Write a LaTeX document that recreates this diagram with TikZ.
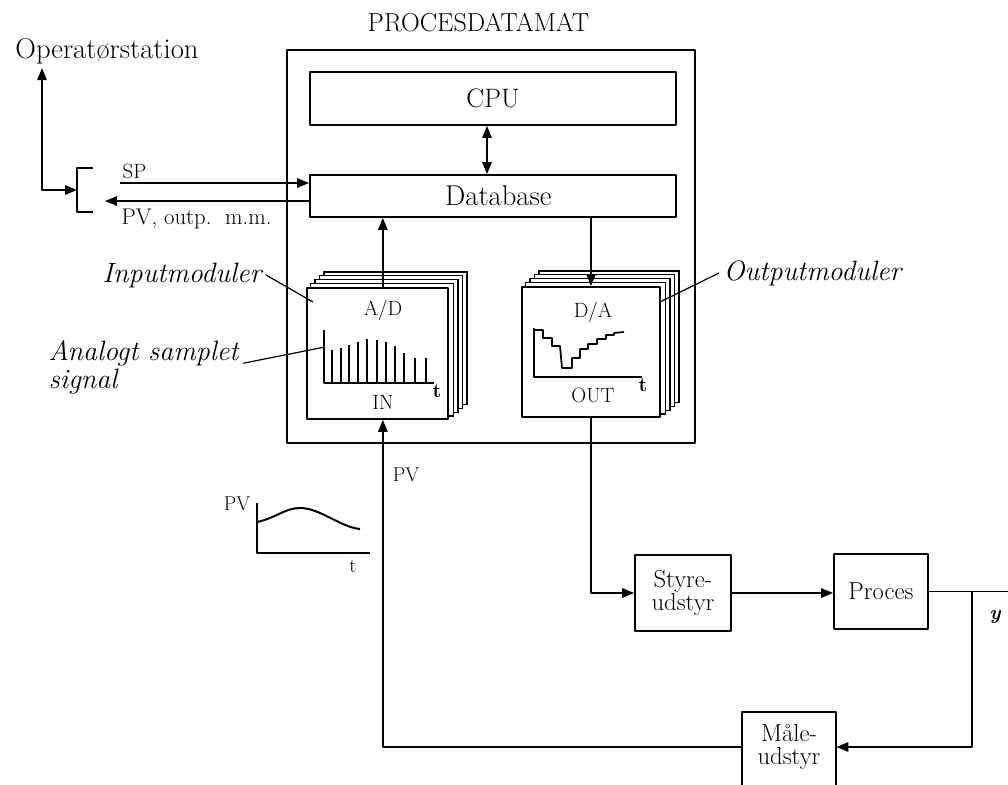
\documentclass[tikz,border=0pt]{standalone}
\usepackage{fontspec}
\usetikzlibrary{arrows.meta,calc,backgrounds}
\tikzset{
  lw/.style={line width=1.3pt},
  thin line/.style={line width=0.9pt},
  box/.style={draw, line width=1.3pt, inner sep=0pt, fill=white},
  page/.style={draw, line width=1pt, fill=white},
  arr/.style={-{Triangle[length=9pt,width=7pt]}},
  darr/.style={{Triangle[length=9pt,width=7pt]}-{Triangle[length=9pt,width=7pt]}},
  bigtxt/.style={font=\fontsize{21.5}{24}\selectfont},
  blocktxt/.style={font=\fontsize{18.5}{17}\selectfont, align=center},
  modtxt/.style={font=\fontsize{15.5}{18}\selectfont},
  smalltxt/.style={font=\fontsize{14}{16}\selectfont},
  itlab/.style={font=\itshape\fontsize{21}{20.5}\selectfont},
}
\begin{document}
\begin{tikzpicture}[x=0.75pt,y=-0.75pt,line join=round]
\useasboundingbox (0,0) rectangle (1008,785);

% ---- process computer frame
\node[box, fill=none, minimum width=306pt, minimum height=294.75pt] (outer) at (491,246.5) {};
\node[font=\fontsize{19.5}{22}\selectfont] (title) at (478.5,23) {PROCESDATAMAT};

\node[box, font=\fontsize{20}{22}\selectfont, minimum width=274.5pt, minimum height=39.75pt] (cpu) at (493,98.5) {CPU};
\node[box, bigtxt, minimum width=274.5pt, minimum height=31.5pt] (db) at (493,196) {\hspace{8pt}Database};
\draw[lw, darr] ([xshift=-4.5pt]cpu.south) -- ([xshift=-4.5pt]db.north);

% ---- input module stack
\node[box, minimum width=105.75pt, minimum height=98.25pt] (inmod) at (377.5,353.5) {};
\begin{scope}[on background layer]
  \foreach \k in {4,3,2,1}
    \draw[page] ([shift={(\k*4.5,-\k*3.8)}]inmod.south west) rectangle ([shift={(\k*4.5,-\k*3.8)}]inmod.north east);
\end{scope}
\node[modtxt] (ad) at (383,310) {A/D};
\node[modtxt] (in) at (383,402) {IN};
\draw[lw] (324,330) -- (324,383) -- (434,383);
\foreach \x/\h in {331.7/350, 341/348, 349.3/345, 358.3/342, 366.7/339, 376.7/340, 386/342, 395/346, 404.3/353, 415/358, 425.7/358}
  \draw[line width=1.5pt] (\x,383) -- (\x,\h);
\node[font=\bfseries\fontsize{15}{16}\selectfont] (tin) at (437,391) {t};

% ---- output module stack
\node[box, minimum width=103.5pt, minimum height=97.5pt] (outmod) at (591,352) {};
\begin{scope}[on background layer]
  \foreach \k in {4,3,2,1}
    \draw[page] ([shift={(\k*4.5,-\k*3.8)}]outmod.south west) rectangle ([shift={(\k*4.5,-\k*3.8)}]outmod.north east);
\end{scope}
\node[modtxt] (da) at (593,312) {D/A};
\node[modtxt] (outt) at (593,395) {OUT};
\draw[lw] (534,328) -- (534,377) -- (642,377);
\draw[lw] (534,330) -- (543,330) -- (543,338) -- (552,338) -- (552,346) -- (560,346)
  -- (562,368) -- (572,368) -- (572,358) -- (580,358) -- (580,349) -- (588,349)
  -- (588,344) -- (597,344) -- (597,339) -- (606,339) -- (606,335) -- (614,335)
  -- (614,333) -- (624,332);
\node[font=\bfseries\fontsize{15}{16}\selectfont] (tout) at (643,385) {t};

% ---- connections inside
\coordinate (inx) at ([xshift=4pt]inmod.north);
\draw[lw, arr] (inx) -- (inx |- db.south);
\draw[lw, arr] (outmod.north |- db.south) -- (outmod.north);

% ---- operator side
\coordinate (sps) at (120,183);
\coordinate (pve) at (105,201);
\draw[lw, arr] (sps) -- (sps -| db.west);
\draw[lw, arr] (pve -| db.west) -- (pve);
\node[modtxt, anchor=west] (sp) at (118,171) {SP};
\node[font=\fontsize{17}{18}\selectfont, anchor=west] (pvout) at (117,219) {PV, outp.\ \ m.m.};
\coordinate (brk) at (77,190);
\draw[lw] (93,168) -- (77,168) -- (77,212) -- (93,212);
\node[bigtxt] (op) at (107,51) {Operatørstation};
\coordinate (optip) at (42,68);
\draw[lw, darr] (optip) |- (brk);

% ---- labels with leaders
\node[itlab, anchor=east] (inlab) at (266,275) {Inputmoduler};
\coordinate (inlead) at (313,302);
\draw[thin line] (inlab.east) -- (inlead);
\node[itlab, anchor=north west, align=left] (anlab) at (44,336) {Analogt samplet\\signal};
\coordinate (anlead) at (325,347);
\draw[thin line] ([yshift=3pt]anlab.east) -- (anlead);
\node[itlab, anchor=west] (outlab) at (719,273) {Outputmoduler};
\coordinate (outlead) at (660,302);
\draw[thin line] (outlab.west) -- (outlead);

% ---- plant loop
\node[box, blocktxt, minimum width=72pt, minimum height=57pt] (styre) at (683,593) {Styre-\\udstyr};
\node[box, blocktxt, minimum width=70.5pt, minimum height=56.25pt] (proces) at (881,591.5) {Proces};
\node[blocktxt, minimum width=70.5pt, minimum height=52.5pt, inner sep=0pt] (maale) at (789,747) {Måle-\\udstyr};
\draw[lw] ([yshift=-30pt]maale.south west) -- (maale.north west) -- (maale.north east) -- ([yshift=-30pt]maale.south east);

\draw[lw, arr] (outmod.south) |- (styre.west);
\draw[lw, arr] (styre.east) -- (styre.east -| proces.west);
\coordinate (yend) at (1008,591.5);
\coordinate (br) at (972,591.5);
\draw[lw] (proces.east) -- (yend);
\draw[lw, arr] (br) |- (maale.east);
\node[font=\bfseries\itshape\fontsize{15}{18}\selectfont] (ylab) at (995,617) {y};
\coordinate (inb) at ([xshift=4pt]inmod.south);
\draw[lw, arr] (maale.west) -| (inb);
\node[font=\fontsize{15}{16}\selectfont] (pvlab) at (406,475) {PV};

% ---- PV trend sketch
\draw[lw] (257,503) -- (257,553) -- (370,553);
\draw[line width=1.5pt] (257,522) .. controls (276,518) and (285,508) .. (300,508) .. controls (320,508) and (340,527) .. (360,529);
\node[font=\fontsize{15}{16}\selectfont, anchor=east] (pvg) at (255,504) {PV};
\node[font=\fontsize{15}{16}\selectfont] (tg) at (353,566) {t};
\end{tikzpicture}
\end{document}
